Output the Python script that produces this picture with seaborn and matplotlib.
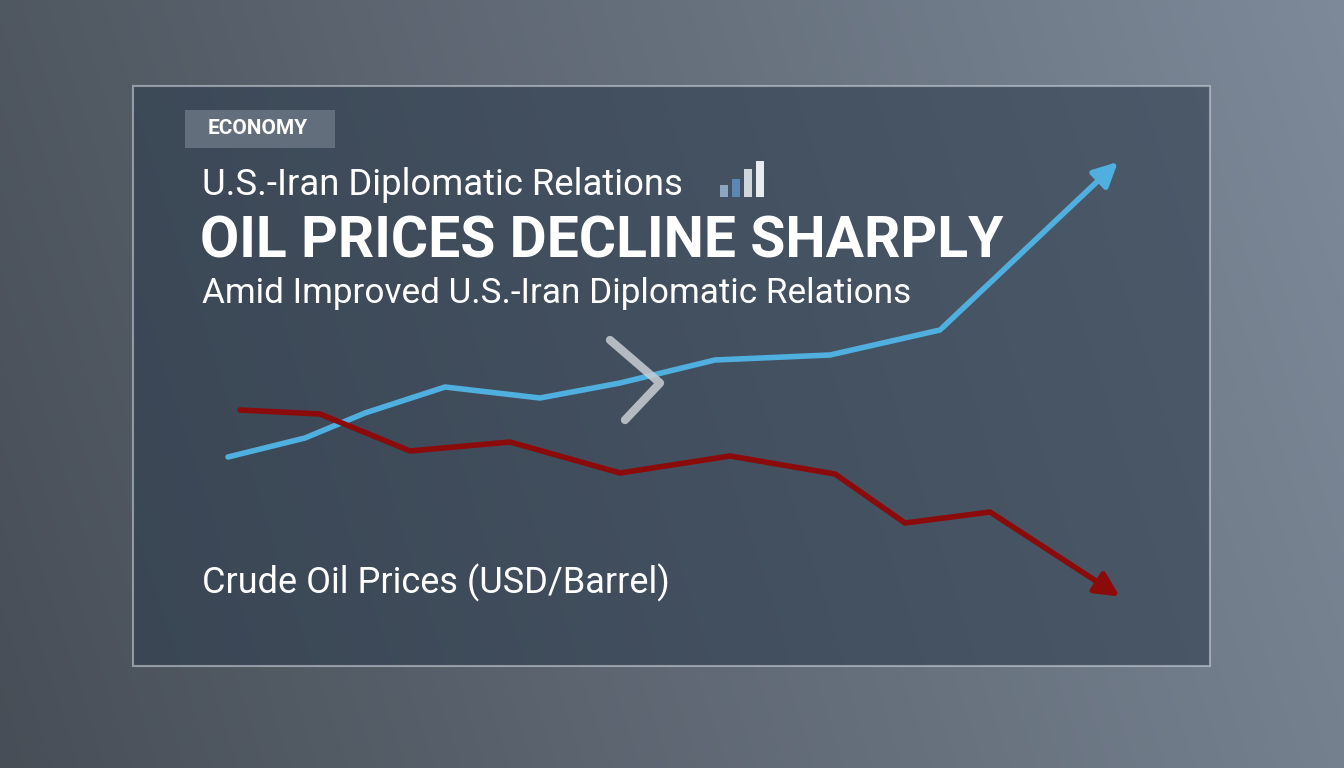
import numpy as np
import pandas as pd
import matplotlib
matplotlib.use("Agg")
import matplotlib.pyplot as plt
import seaborn as sns
from matplotlib.patches import Rectangle

# data (chart space: x position, y level; y axis inverted like screen)
blue_x = [228, 305, 365, 445, 540, 620, 715, 830, 940, 1120]
blue_y = [457, 438, 413, 387, 398, 383, 360, 355, 330, 160]
red_x = [240, 320, 410, 510, 620, 730, 835, 905, 990, 1122]
red_y = [410, 414, 451, 442, 473, 456, 474, 523, 512, 598]

tag = "ECONOMY"
kicker = "U.S.-Iran Diplomatic Relations"
title = "OIL PRICES DECLINE SHARPLY"
subtitle = "Amid Improved U.S.-Iran Diplomatic Relations"
label = "Crude Oil Prices (USD/Barrel)"

sns.set_theme(style="white")
plt.rcParams['font.family'] = ['Roboto', 'DejaVu Sans']

fig = plt.figure(figsize=(13.44, 7.68), dpi=100)
ax = fig.add_axes([0, 0, 1, 1])

# background gradient
yy, xx = np.mgrid[0:768, 0:1344]
g = 0.34 + 0.22 * (xx / 1344) + 0.04 * (1 - yy / 768)
bg = np.dstack([g * 0.82, g * 0.90, g * 1.0])
ax.imshow(np.clip(bg, 0, 1), extent=[0, 1344, 768, 0], aspect="auto", zorder=0)

# panel
ax.add_patch(Rectangle((133, 86), 1077, 580, facecolor="#2e3d4e", alpha=0.6,
                       edgecolor="#c8ced6", lw=1.5, zorder=1))

df_b = pd.DataFrame({"x": blue_x[:-1], "y": blue_y[:-1]})
df_r = pd.DataFrame({"x": red_x[:-1], "y": red_y[:-1]})
sns.lineplot(data=df_b, x="x", y="y", ax=ax, color="#4fb0e0", lw=4, sort=False, zorder=3)
sns.lineplot(data=df_r, x="x", y="y", ax=ax, color="#8b0a0a", lw=4, sort=False, zorder=3)
ax.annotate("", xy=(blue_x[-1], blue_y[-1]), xytext=(blue_x[-2], blue_y[-2]),
            arrowprops=dict(arrowstyle="-|>,head_length=1.2,head_width=0.6", color="#4fb0e0", lw=4), zorder=3)
ax.annotate("", xy=(red_x[-1], red_y[-1]), xytext=(red_x[-2], red_y[-2]),
            arrowprops=dict(arrowstyle="-|>,head_length=1.2,head_width=0.6", color="#8b0a0a", lw=4), zorder=3)
ax.set_xlim(0, 1344)
ax.set_ylim(768, 0)
ax.axis("off")

# chevron
ax.plot([610, 660, 625], [340, 383, 420], color="#c9ced4", lw=6, alpha=0.85, zorder=4)

# texts
ax.add_patch(Rectangle((185, 110), 150, 38, facecolor="#6a7584", alpha=0.85, lw=0, zorder=4))
ax.text(258, 129, tag, color="white", fontsize=15, fontweight="bold", ha="center", va="center", zorder=5)
ax.text(202, 185, kicker, color="white", fontsize=26.3, va="center", zorder=5)
for i, h in enumerate([12, 18, 28, 36]):
    ax.add_patch(Rectangle((720 + i * 12, 197 - h), 8, h, lw=0,
                           facecolor=["#8aa6c0", "#5a87b5", "#d0d6dc", "#e8ecf0"][i], zorder=5))
ax.text(200, 242, title, color="white", fontsize=41, fontweight="bold", va="center", zorder=5)
ax.text(202, 294, subtitle, color="white", fontsize=25.3, va="center", zorder=5)
ax.text(202, 583, label, color="white", fontsize=26, va="center", zorder=5)

fig.savefig("out.png", dpi=100)
